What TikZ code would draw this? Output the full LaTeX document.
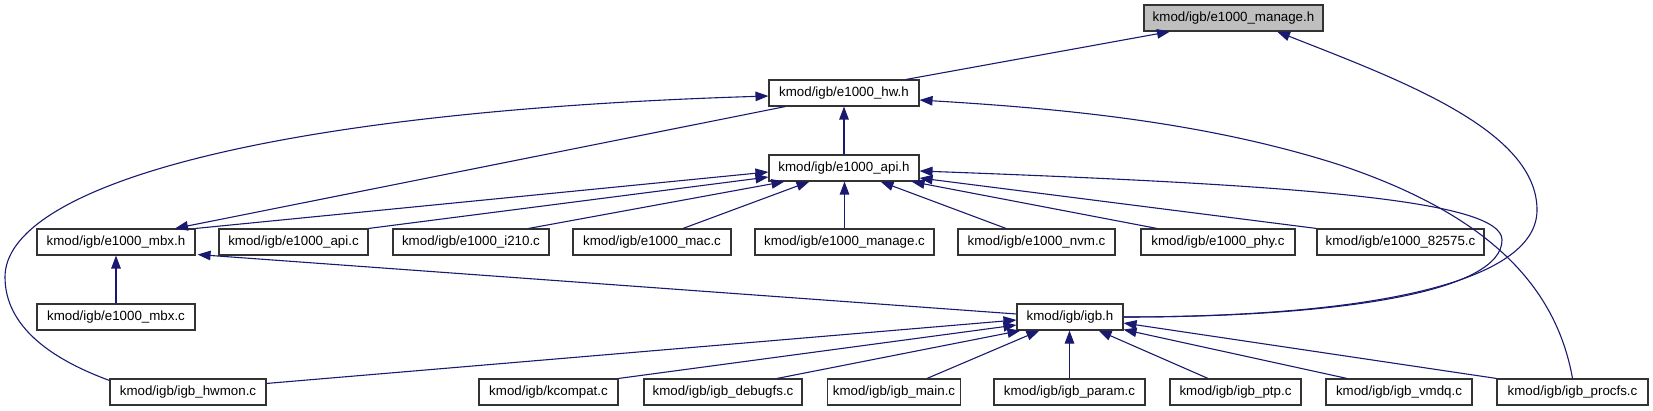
\documentclass[tikz,border=0pt]{standalone}
\usepackage{fontspec}
\setmainfont{Liberation Sans}
\usetikzlibrary{arrows.meta,calc}
\definecolor{navy}{HTML}{191970}
\definecolor{rootgray}{HTML}{BFBFBF}
\begin{document}
\begin{tikzpicture}[x=1pt,y=-1pt,
  box/.style={draw=black!80, line width=1.1pt, minimum height=26pt, inner xsep=5pt, inner ysep=0pt,
    font=\fontsize{13.33pt}{16pt}\selectfont, anchor=center},
  edge/.style={draw=navy, line width=1.1pt, -{Triangle[length=13pt,width=9.5pt]}}]
\useasboundingbox (0,0) rectangle (1653,411);
% nodes
\node[box, fill=rootgray, minimum width=179pt] (manageh) at (1233.5,18) {kmod/igb/e1000\_manage.h};
\node[box, minimum width=150pt] (hwh) at (844,93) {kmod/igb/e1000\_hw.h};
\node[box, minimum width=150pt] (apih) at (844,168) {kmod/igb/e1000\_api.h};
\node[box, minimum width=158pt] (mbxh) at (116,242) {kmod/igb/e1000\_mbx.h};
\node[box, minimum width=149pt] (apic) at (293.5,242) {kmod/igb/e1000\_api.c};
\node[box, minimum width=156pt] (i210c) at (471,242) {kmod/igb/e1000\_i210.c};
\node[box, minimum width=158pt] (macc) at (652,242) {kmod/igb/e1000\_mac.c};
\node[box, minimum width=179pt] (managec) at (844.5,242) {kmod/igb/e1000\_manage.c};
\node[box, minimum width=157pt] (nvmc) at (1036.5,242) {kmod/igb/e1000\_nvm.c};
\node[box, minimum width=154pt] (phyc) at (1218,242) {kmod/igb/e1000\_phy.c};
\node[box, minimum width=167pt] (c82575) at (1400.5,242) {kmod/igb/e1000\_82575.c};
\node[box, minimum width=158pt] (mbxc) at (116,317) {kmod/igb/e1000\_mbx.c};
\node[box, minimum width=106pt] (igbh) at (1070,317) {kmod/igb/igb.h};
\node[box, minimum width=156pt] (hwmonc) at (188,392) {kmod/igb/igb\_hwmon.c};
\node[box, minimum width=139pt] (kcompatc) at (548.5,392) {kmod/igb/kcompat.c};
\node[box, minimum width=158pt] (debugfsc) at (723,392) {kmod/igb/igb\_debugfs.c};
\node[box, minimum width=133pt] (mainc) at (894,392) {kmod/igb/igb\_main.c};
\node[box, minimum width=151pt] (paramc) at (1069.5,392) {kmod/igb/igb\_param.c};
\node[box, minimum width=131pt] (ptpc) at (1235.5,392) {kmod/igb/igb\_ptp.c};
\node[box, minimum width=146pt] (vmdqc) at (1399,392) {kmod/igb/igb\_vmdq.c};
\node[box, minimum width=151pt] (procfsc) at (1572.5,392) {kmod/igb/igb\_procfs.c};
% edges to e1000_manage.h
\draw[edge] ($(hwh.north)+(62,0)$) -- ($(manageh.south)+(-63.5,0)$);
\draw[edge] (igbh.east) .. controls (1360,317) and (1537,285) .. (1537,210)
  .. controls (1537,130) and (1400,80) .. ($(manageh.south)+(43.5,0)$);
% edges to e1000_hw.h
\draw[edge] (apih.north) -- (hwh.south);
\draw[edge] ($(hwmonc.north west)+(0,2)$) .. controls (40,355) and (5,320) .. (5,277)
  .. controls (5,190) and (250,112) .. ($(hwh.west)+(0,3)$);
\draw[edge] (procfsc.north) .. controls (1555,280) and (1480,212) .. (1340,165)
  .. controls (1200,120) and (1050,108) .. ($(hwh.east)+(0,7)$);
% edges to e1000_mbx.h
\draw[edge] ($(hwh.south west)+(17,0)$) -- ($(mbxh.north)+(59,0)$);
\draw[edge] ($(igbh.west)+(0,-3)$) -- ($(mbxh.south east)+(2,-1)$);
\draw[edge] (mbxc.north) -- (mbxh.south);
% edges to e1000_api.h
\draw[edge] (mbxh.north east) -- ($(apih.west)+(0,4)$);
\draw[edge] (apic.north east) -- ($(apih.west)+(0,9)$);
\draw[edge] ($(i210c.north east)+(-21,0)$) -- ($(apih.south west)+(16,0)$);
\draw[edge] ($(macc.north)+(31,0)$) -- ($(apih.south west)+(41,0)$);
\draw[edge] (managec.north) -- (managec.north |- apih.south);
\draw[edge] ($(nvmc.north)+(-30.5,0)$) -- ($(apih.south east)+(-39,0)$);
\draw[edge] ($(phyc.north)+(-61,0)$) -- ($(apih.south east)+(-8,0)$);
\draw[edge] (c82575.north west) -- ($(apih.east)+(0,10)$);
\draw[edge] (igbh.east) .. controls (1350,317) and (1502,290) .. (1502,240)
  .. controls (1502,200) and (1300,185) .. ($(apih.east)+(0,3)$);
% edges to igb.h
\draw[edge] ($(hwmonc.north east)+(0,5)$) -- ($(igbh.west)+(0,3)$);
\draw[edge] (kcompatc.north east) -- ($(igbh.west)+(0,8)$);
\draw[edge] ($(debugfsc.north)+(54,0)$) -- ($(igbh.south west)+(4,0)$);
\draw[edge] ($(mainc.north)+(33,0)$) -- ($(igbh.south west)+(23,0)$);
\draw[edge] (paramc.north) -- (paramc.north |- igbh.south);
\draw[edge] ($(ptpc.north)+(-27.5,0)$) -- ($(igbh.south east)+(-25,0)$);
\draw[edge] ($(vmdqc.north)+(-52,0)$) -- ($(igbh.south east)+(0,-1)$);
\draw[edge] (procfsc.north west) -- ($(igbh.east)+(0,6)$);
\end{tikzpicture}
\end{document}
